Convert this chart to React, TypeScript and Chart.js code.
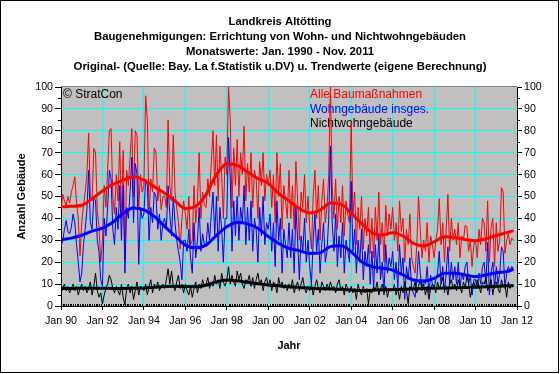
import { useEffect, useRef } from "react";
import { Chart, registerables } from "chart.js";

Chart.register(...registerables);

const FONT = '"Liberation Sans", Arial, sans-serif';

const titleLines = [
  "Landkreis Altötting",
  "Baugenehmigungen: Errichtung von Wohn- und Nichtwohngebäuden",
  "Monatswerte: Jan. 1990 - Nov. 2011",
  "Original- (Quelle: Bay. La f.Statistik u.DV) u. Trendwerte (eigene Berechnung)",
];
const xTickLabels = ["Jan 90", "Jan 92", "Jan 94", "Jan 96", "Jan 98", "Jan 00", "Jan 02", "Jan 04", "Jan 06", "Jan 08", "Jan 10", "Jan 12"];
const legendLabels = ["Alle Baumaßnahmen", "Wohngebäude insges.", "Nichtwohngebäude"];
const seriesColors = ["#FF0000", "#0000FF", "#000000"];
const copyrightText = "© StratCon";
const yAxisTitle = "Anzahl Gebäude";
const xAxisTitle = "Jahr";

// monthly values Jan 1990 - Nov 2011
const alleBaumassnahmen = [
  44, 51, 48, 46, 50, 47, 52, 55, 59, 47, 40, 23, // 1990
  38, 46, 52, 60, 79, 50, 48, 72, 70, 44, 36, 20, // 1991
  30, 55, 45, 62, 80, 81, 50, 42, 60, 48, 75, 40, // 1992
  71, 20, 62, 55, 68, 81, 50, 80, 78, 45, 60, 52, // 1993
  55, 96, 85, 42, 58, 52, 72, 70, 48, 55, 44, 50, // 1994
  50, 45, 85, 55, 48, 78, 52, 45, 38, 26, 40, 48, // 1995
  42, 35, 50, 28, 30, 55, 38, 48, 70, 40, 52, 46, // 1996
  45, 58, 50, 65, 80, 55, 78, 48, 73, 60, 40, 68, // 1997
  60, 100, 85, 45, 72, 55, 76, 50, 70, 60, 82, 48, // 1998
  65, 52, 70, 45, 62, 58, 40, 66, 55, 70, 48, 60, // 1999
  55, 62, 45, 60, 38, 70, 50, 65, 35, 55, 48, 40, // 2000
  62, 40, 55, 35, 66, 48, 30, 52, 45, 60, 38, 50, // 2001
  35, 26, 50, 62, 40, 55, 30, 48, 58, 38, 45, 60, // 2002
  100, 55, 40, 58, 35, 50, 38, 55, 32, 48, 42, 38, // 2003
  84, 42, 52, 28, 45, 35, 50, 26, 40, 32, 45, 24, // 2004
  40, 22, 45, 30, 52, 28, 38, 20, 46, 32, 42, 35, // 2005
  45, 30, 38, 25, 48, 34, 40, 20, 35, 28, 42, 22, // 2006
  18, 15, 28, 50, 35, 22, 30, 25, 38, 20, 32, 28, // 2007
  22, 30, 35, 49, 28, 38, 20, 35, 51, 25, 40, 30, // 2008
  35, 28, 38, 22, 32, 30, 37, 36, 25, 30, 18, 28, // 2009
  30, 22, 35, 28, 40, 38, 25, 48, 20, 36, 40, 18, // 2010
  38, 25, 30, 54, 52, 24, 30, 33, 28, 31, 30, // 2011
];

const wohngebaeude = [
  27, 30, 35, 39, 34, 33, 36, 42, 38, 28, 20, 11, // 1990
  15, 28, 35, 44, 62, 38, 35, 50, 48, 30, 25, 12, // 1991
  9, 40, 32, 45, 62, 58, 35, 28, 45, 35, 55, 30, // 1992
  55, 15, 45, 40, 52, 68, 38, 65, 60, 19, 45, 40, // 1993
  42, 58, 55, 30, 45, 38, 52, 50, 35, 42, 30, 38, // 1994
  40, 35, 55, 42, 32, 50, 38, 30, 25, 20, 12, 30, // 1995
  30, 25, 35, 22, 15, 38, 22, 30, 45, 25, 33, 28, // 1996
  28, 38, 30, 42, 52, 32, 50, 25, 45, 35, 20, 40, // 1997
  40, 77, 58, 25, 48, 32, 50, 30, 45, 38, 55, 28, // 1998
  45, 30, 48, 25, 40, 35, 20, 45, 32, 50, 28, 38, // 1999
  35, 42, 25, 38, 18, 48, 30, 40, 15, 35, 28, 22, // 2000
  38, 22, 35, 15, 45, 30, 12, 32, 25, 40, 20, 30, // 2001
  18, 10, 30, 42, 25, 35, 15, 28, 38, 20, 25, 40, // 2002
  73, 38, 25, 42, 18, 32, 22, 38, 15, 30, 25, 20, // 2003
  57, 25, 35, 15, 30, 20, 35, 12, 25, 18, 28, 10, // 2004
  25, 8, 28, 15, 32, 12, 20, 5, 28, 15, 22, 18, // 2005
  25, 12, 20, 8, 28, 15, 22, 3, 18, 12, 22, 8, // 2006
  6, 4, 12, 25, 15, 8, 12, 10, 18, 6, 14, 10, // 2007
  8, 12, 15, 25, 10, 18, 6, 15, 27, 10, 20, 12, // 2008
  18, 10, 20, 8, 15, 12, 18, 20, 10, 14, 5, 12, // 2009
  12, 8, 15, 10, 18, 20, 10, 29, 5, 15, 20, 8, // 2010
  18, 10, 15, 27, 25, 8, 15, 18, 16, 18, 17, // 2011
];

const nichtwohngebaeude = [
  6, 8, 10, 7, 9, 6, 8, 10, 7, 9, 5, 8, // 1990
  10, 7, 9, 6, 8, 11, 5, 9, 15, 7, 4, 6, // 1991
  1, 5, 8, 10, 14, 12, 8, 6, 9, 7, 5, 10, // 1992
  4, 0.5, 8, 10, 6, 9, 3, 7, 11, 5, 9, 8, // 1993
  7, 10, 5, 9, 12, 6, 10, 8, 11, 7, 9, 10, // 1994
  8, 12, 17, 10, 16, 9, 7, 11, 14, 8, 10, 6, // 1995
  10, 7, 5, 9, 4, 8, 11, 6, 10, 8, 12, 9, // 1996
  10, 13, 8, 11, 9, 14, 10, 12, 8, 15, 11, 9, // 1997
  12, 18, 10, 14, 11, 9, 16, 12, 15, 10, 8, 12, // 1998
  11, 14, 9, 13, 8, 12, 15, 10, 12, 7, 11, 13, // 1999
  9, 12, 7, 11, 10, 6, 13, 9, 11, 8, 10, 7, // 2000
  10, 8, 12, 6, 9, 11, 7, 10, 13, 8, 6, 9, // 2001
  7, 10, 5, 9, 12, 8, 6, 11, 9, 7, 10, 8, // 2002
  11, 8, 9, 6, 10, 12, 7, 9, 5, 10, 8, 6, // 2003
  9, 6, 8, 3, 10, 7, 5, 9, 6, 8, 1, 7, // 2004
  6, 9, 7, 11, 5, 8, 10, 6, 9, 4, 8, 7, // 2005
  7, 10, 5, 8, 3, 9, 6, 11, 7, 1, 9, 8, // 2006
  8, 11, 6, 9, 12, 7, 10, 5, 9, 3, 8, 10, // 2007
  9, 6, 11, 8, 10, 13, 7, 9, 5, 10, 12, 8, // 2008
  10, 7, 12, 9, 6, 11, 8, 14, 10, 4, 9, 11, // 2009
  8, 12, 9, 6, 11, 10, 13, 7, 9, 12, 5, 10, // 2010
  11, 8, 6, 12, 9, 10, 4, 11, 8, 10, 9, // 2011
];

// trend values (month index from Jan 1990)
const trendMonths = [0, 6, 12, 18, 24, 30, 36, 42, 48, 54, 60, 66, 72, 78, 84, 90, 96, 102, 108, 114, 120, 126, 132, 138, 144, 150, 156, 162, 168, 174, 180, 186, 192, 198, 204, 210, 216, 222, 228, 234, 240, 246, 252, 258, 262];
const alleTrend = [45.3, 45.5, 46, 49, 52.5, 55.5, 57.5, 59, 57.5, 54.5, 51.5, 48, 44.5, 45.5, 51, 60, 65, 64.2, 61.2, 58.2, 56, 51.4, 48, 44.5, 42.5, 43.8, 47, 46.5, 42.3, 37.7, 33.5, 32.4, 33.5, 32, 28.6, 27.4, 29.3, 31.6, 31.3, 30.4, 29.8, 30.7, 32.2, 33.5, 34.4];
const wohnTrend = [30.3, 31, 32.3, 34.2, 35.6, 38.2, 42.4, 44.7, 43.9, 40.9, 36.4, 32, 27.8, 26.6, 27.8, 32.3, 36.2, 38.1, 37.5, 35.5, 31.7, 28.6, 26.3, 25.3, 24.0, 24.3, 27.1, 27.5, 24.8, 20.2, 18, 17.2, 16.4, 14.2, 11.9, 11.4, 12.6, 14.9, 14.9, 14.2, 13.4, 14.2, 15.2, 15.7, 16.7];
const nichtwohnTrend = [8.0, 8.0, 8.1, 8.1, 8.1, 8.0, 8.0, 8.1, 8.2, 8.6, 8.9, 9.0, 8.9, 8.8, 9.5, 11.0, 11.9, 11.5, 10.8, 10.2, 9.6, 9.2, 8.8, 8.5, 8.1, 7.9, 7.8, 7.6, 7.3, 7.0, 7.2, 7.4, 7.5, 7.6, 7.8, 8.0, 8.1, 8.2, 8.3, 8.4, 8.6, 8.8, 9.0, 9.2, 9.3];

const MONTHS_PER_LABEL = 24;
const X_MAX = 264;

const toPoints = (vals: number[]) => vals.map((v, i) => ({ x: i, y: v }));
const toTrend = (vals: number[]) => vals.map((v, i) => ({ x: trendMonths[i], y: v }));

const decor = {
  id: "decor",
  beforeDraw(chart: any) {
    const { ctx, chartArea: a } = chart;
    ctx.save();
    ctx.fillStyle = "#FFFFFF";
    ctx.fillRect(0, 0, chart.width, chart.height);
    ctx.fillStyle = "#C0C0C0";
    ctx.fillRect(a.left, a.top, a.right - a.left, a.bottom - a.top);
    ctx.restore();
  },
  beforeDatasetsDraw(chart: any) {
    const { ctx, chartArea: a } = chart;
    ctx.save();
    ctx.font = `12px ${FONT}`;
    ctx.textBaseline = "middle";
    ctx.textAlign = "left";
    ctx.fillStyle = "#000";
    ctx.fillText(copyrightText, a.left + 2, a.top + 7.5);
    legendLabels.forEach((t, i) => {
      ctx.fillStyle = seriesColors[i];
      ctx.fillText(t, 310, a.top + 8 + i * 14.5);
    });
    ctx.restore();
  },
  afterDraw(chart: any) {
    const { ctx, chartArea: a } = chart;
    const y = chart.scales.y;
    ctx.save();
    // plot top border
    ctx.strokeStyle = "#808080";
    ctx.lineWidth = 1;
    ctx.beginPath();
    ctx.moveTo(a.left, Math.round(a.top) - 0.5);
    ctx.lineTo(a.right, Math.round(a.top) - 0.5);
    ctx.stroke();
    // minor ticks
    ctx.strokeStyle = "#000";
    ctx.beginPath();
    for (let v = 5; v < 100; v += 10) {
      const py = Math.round(y.getPixelForValue(v)) + 0.5;
      ctx.moveTo(a.left - 3, py);
      ctx.lineTo(a.left, py);
      ctx.moveTo(a.right, py);
      ctx.lineTo(a.right + 3, py);
    }
    const xs = chart.scales.x;
    for (let m = 1; m < X_MAX; m++) {
      if (m % MONTHS_PER_LABEL === 0) continue;
      const px = Math.round(xs.getPixelForValue(m)) + 0.5;
      ctx.moveTo(px, a.bottom - 2);
      ctx.lineTo(px, a.bottom);
    }
    ctx.stroke();
    // titles
    ctx.fillStyle = "#000";
    ctx.textAlign = "center";
    ctx.textBaseline = "middle";
    ctx.font = `bold 11.3px ${FONT}`;
    titleLines.forEach((t, i) => ctx.fillText(t, 280, 22 + i * 15));
    ctx.font = `bold 11px ${FONT}`;
    ctx.fillText(xAxisTitle, (a.left + a.right) / 2, 345.5);
    ctx.save();
    ctx.translate(21.5, (a.top + a.bottom) / 2);
    ctx.rotate(-Math.PI / 2);
    ctx.fillText(yAxisTitle, 0, 0);
    ctx.restore();
    // outer frame
    ctx.strokeStyle = "#000";
    ctx.lineWidth = 1;
    ctx.strokeRect(0.5, 0.5, 558, 372);
    ctx.restore();
  },
};

export default function App() {
  const ref = useRef<HTMLCanvasElement>(null);
  useEffect(() => {
    document.body.style.margin = "0";
    const canvas = ref.current;
    if (!canvas) return;
    const tickFont = { family: FONT, size: 10.67 };
    const gridColor = (ctx: any) => {
      const v = ctx.tick ? ctx.tick.value : null;
      return v === 0 || v === 100 || v === X_MAX ? "rgba(0,0,0,0)" : "#00FFFF";
    };
    const chart = new Chart(canvas, {
      type: "line",
      data: {
        datasets: [
          { data: toTrend(nichtwohnTrend), borderColor: seriesColors[2], borderWidth: 3, tension: 0.4, cubicInterpolationMode: "monotone", pointRadius: 0, yAxisID: "y" },
          { data: toTrend(wohnTrend), borderColor: seriesColors[1], borderWidth: 3, tension: 0.4, cubicInterpolationMode: "monotone", pointRadius: 0, yAxisID: "y" },
          { data: toTrend(alleTrend), borderColor: seriesColors[0], borderWidth: 3, tension: 0.4, cubicInterpolationMode: "monotone", pointRadius: 0, yAxisID: "y" },
          { data: toPoints(nichtwohngebaeude), borderColor: seriesColors[2], borderWidth: 1, tension: 0, pointRadius: 0, yAxisID: "y" },
          { data: toPoints(wohngebaeude), borderColor: seriesColors[1], borderWidth: 1, tension: 0, pointRadius: 0, yAxisID: "y" },
          { data: toPoints(alleBaumassnahmen), borderColor: seriesColors[0], borderWidth: 1, tension: 0, pointRadius: 0, yAxisID: "y" },
        ] as any,
      },
      options: {
        animation: false,
        responsive: false,
        devicePixelRatio: 1,
        events: [],
        layout: { padding: { top: 87, left: 0, right: 0, bottom: 0 } },
        plugins: { legend: { display: false }, title: { display: false }, tooltip: { enabled: false } },
        scales: {
          x: {
            type: "linear",
            position: "bottom",
            min: 0,
            max: X_MAX,
            afterBuildTicks: (scale: any) => {
              scale.ticks = xTickLabels.map((_, i) => ({ value: i * MONTHS_PER_LABEL }));
            },
            afterFit: (scale: any) => {
              scale.height = 68;
            },
            ticks: {
              autoSkip: false,
              maxRotation: 0,
              minRotation: 0,
              color: "#000",
              font: tickFont,
              padding: 5,
              callback: (v: any) => xTickLabels[Math.round(Number(v) / MONTHS_PER_LABEL)],
            },
            grid: { color: gridColor, lineWidth: 1, drawTicks: true, tickLength: 4, tickColor: "#000" },
            border: { display: true, color: "#000", width: 1 },
          },
          y: {
            type: "linear",
            position: "left",
            min: 0,
            max: 100,
            afterFit: (scale: any) => {
              scale.width = 61;
            },
            ticks: { stepSize: 10, color: "#000", font: tickFont, padding: 2 },
            grid: { color: gridColor, lineWidth: 1, drawTicks: true, tickLength: 6, tickColor: "#000" },
            border: { display: true, color: "#000", width: 1 },
          },
          y2: {
            type: "linear",
            position: "right",
            min: 0,
            max: 100,
            afterFit: (scale: any) => {
              scale.width = 43;
            },
            ticks: { stepSize: 10, color: "#000", font: tickFont, padding: 2 },
            grid: { drawOnChartArea: false, drawTicks: true, tickLength: 5, tickColor: "#000" },
            border: { display: true, color: "#000", width: 1 },
          },
        },
      } as any,
      plugins: [decor],
    });
    return () => chart.destroy();
  }, []);
  return (
    <div style={{ width: 560, height: 374 }}>
      <canvas ref={ref} width={560} height={374} style={{ display: "block", width: 560, height: 374 }} />
    </div>
  );
}
